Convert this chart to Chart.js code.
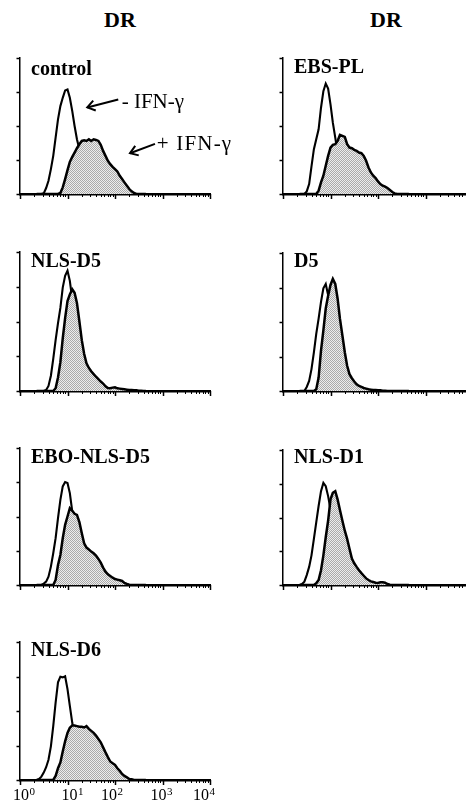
<!DOCTYPE html>
<html>
<head>
<meta charset="utf-8">
<script src="https://cdn.jsdelivr.net/npm/chart.js@4.4.1/dist/chart.umd.min.js"></script>
<style>
html,body{margin:0;padding:0;background:#fff;}
body{width:466px;height:803px;overflow:hidden;position:relative;}
.dr{position:absolute;top:9px;width:100px;text-align:center;font:bold 22px/22px "Liberation Serif",serif;color:#000;}
.pn{position:absolute;}
</style>
</head>
<body>
<div class="dr" style="left:70px">DR</div>
<div class="dr" style="left:336px">DR</div>
<script>
// Fluorescence channel bins (log10 from 0.35 to 2.65 in 0.05 steps)
const bins = [2.24,2.51,2.82,3.16,3.55,3.98,4.47,5.01,5.62,6.31,7.08,7.94,8.91,10.0,11.2,12.6,14.1,15.8,17.8,20.0,22.4,25.1,28.2,31.6,35.5,39.8,44.7,50.1,56.2,63.1,70.8,79.4,89.1,100,112,126,141,158,178,200,224,251,282,316,355,398,447];

const panelLabels = ['control','NLS-D5','EBO-NLS-D5','NLS-D6','EBS-PL','D5','NLS-D1'];
const xTickValues = [1,10,100,1000,10000];
const xTickBase = ['10','10','10','10','10'];
const xTickExp = ['0','1','2','3','4'];
const yTicks = [0,102.5,205,307.5,410];

// - IFN-gamma (open) and + IFN-gamma (filled) histograms
const controlMinus = [0,0,0,2,18,40,75,115,170,225,265,290,312,315,290,250,205,165,135,105,75,50,30,15,5,0,0,0,0,0,0,0,0,0,0,0,0,0,0,0,0,0,0,0,0,0,0];
const controlPlus  = [0,0,0,0,0,0,0,0,0,0,3,20,45,72,97,112,125,138,150,160,162,160,165,160,165,163,160,148,130,115,100,90,82,75,68,55,45,35,25,15,8,3,0,0,0,0,0];
const nlsD5Minus   = [0,0,0,0,3,15,45,95,150,200,245,305,340,355,325,270,210,150,100,60,35,20,10,5,0,0,0,0,0,0,0,0,0,0,0,0,0,0,0,0,0,0,0,0,0,0,0];
const nlsD5Plus    = [0,0,0,0,0,0,0,0,8,40,85,155,215,265,285,300,290,260,205,150,110,82,68,58,50,42,35,28,22,14,9,8,10,11,8,7,6,5,4,3,3,2,2,1,1,0,0];
const eboMinus     = [0,0,0,4,10,25,55,95,140,200,255,295,308,305,275,220,160,110,70,40,20,8,0,0,0,0,0,0,0,0,0,0,0,0,0,0,0,0,0,0,0,0,0,0,0,0,0];
const eboPlus      = [0,0,0,0,0,0,0,0,15,60,90,140,180,205,230,222,213,210,188,155,125,112,106,100,95,88,78,67,52,40,32,27,22,18,16,14,12,6,3,1,0,0,0,0,0,0,0];
const nlsD6Minus   = [0,3,10,22,38,60,100,160,230,290,307,305,308,270,220,170,130,95,65,40,20,8,0,0,0,0,0,0,0,0,0,0,0,0,0,0,0,0,0,0,0,0,0,0,0,0,0];
const nlsD6Plus    = [0,0,0,0,0,0,0,0,12,35,52,85,115,140,155,162,162,160,158,158,156,160,152,146,140,132,122,112,97,82,68,55,50,45,35,27,18,12,8,3,2,0,0,0,0,0,0];
const ebsMinus     = [0,0,0,8,30,83,135,165,195,260,310,333,318,270,215,170,125,85,50,25,10,0,0,0,0,0,0,0,0,0,0,0,0,0,0,0,0,0,0,0,0,0,0,0,0,0,0];
const ebsPlus      = [0,0,0,0,0,0,0,0,10,35,55,85,115,140,148,150,160,178,175,172,150,140,138,133,130,125,123,115,100,80,65,55,48,38,30,25,22,18,12,6,2,0,0,0,0,0,0];
const d5Minus      = [0,0,0,12,30,65,115,170,215,265,305,318,285,240,180,120,70,35,15,5,0,0,0,0,0,0,0,0,0,0,0,0,0,0,0,0,0,0,0,0,0,0,0,0,0,0,0];
const d5Plus       = [0,0,0,0,0,0,0,5,40,120,180,245,283,315,333,318,275,215,165,115,75,50,38,28,20,15,12,9,7,5,4,3,3,2,2,1,1,0,0,0,0,0,0,0,0,0,0];
const nlsD1Minus   = [0,3,10,30,55,90,140,190,240,285,310,300,270,230,180,130,85,50,25,10,0,0,0,0,0,0,0,0,0,0,0,0,0,0,0,0,0,0,0,0,0,0,0,0,0,0,0];
const nlsD1Plus    = [0,0,0,0,0,0,0,5,15,45,90,145,195,260,280,285,260,228,195,165,140,110,80,66,55,45,36,28,20,15,11,9,7,6,8,8,7,3,1,0,0,0,0,0,0,0,0];

const annotations = [
  {text:'- IFN-\u03B3', tx:138, ty:258, x1:117, y1:285, x2:26.1, y2:261, spacing:'0px'},
  {text:'+ IFN-\u03B3', tx:755, ty:133, x1:695, y1:151, x2:207, y2:123, spacing:'1.2px'}
];

// horizontal nudges of the printed tick labels (px)
const xLabelNudge = [1, 2, -6, -4, -9];

const panels = [
  {label:panelLabels[0], minus:controlMinus, plus:controlPlus, left:0,   axisTop:58,  base:194, labelDy:17, showX:false, notes:annotations},
  {label:panelLabels[1], minus:nlsD5Minus,   plus:nlsD5Plus,   left:0,   axisTop:252, base:391, labelDy:15, showX:false},
  {label:panelLabels[2], minus:eboMinus,     plus:eboPlus,     left:0,   axisTop:448, base:585, labelDy:15, showX:false},
  {label:panelLabels[3], minus:nlsD6Minus,   plus:nlsD6Plus,   left:0,   axisTop:642, base:780, labelDy:14, showX:true},
  {label:panelLabels[4], minus:ebsMinus,     plus:ebsPlus,     left:263, axisTop:58,  base:194, labelDy:15, showX:false},
  {label:panelLabels[5], minus:d5Minus,      plus:d5Plus,      left:263, axisTop:253, base:391, labelDy:14, showX:false},
  {label:panelLabels[6], minus:nlsD1Minus,   plus:nlsD1Plus,   left:263, axisTop:450, base:585, labelDy:13, showX:false}
];

// stippled grey fill
const pc = document.createElement('canvas');
pc.width = 2; pc.height = 2;
const pg = pc.getContext('2d');
pg.fillStyle = '#ededed'; pg.fillRect(0,0,2,2);
pg.fillStyle = '#aaaaaa'; pg.fillRect(0,0,1,1); pg.fillRect(1,1,1,1);
const stipple = pg.createPattern(pc,'repeat');

const decoPlugin = {
  id:'deco',
  afterDraw(chart, args, opts) {
    const {ctx, chartArea:a, scales:{x, y}} = chart;
    ctx.save();
    ctx.strokeStyle = '#000'; ctx.fillStyle = '#000';
    ctx.lineCap = 'butt';
    ctx.lineWidth = 1.5;
    yTicks.forEach(v => {
      const py = Math.round(y.getPixelForValue(v)) + 0.5;
      ctx.beginPath(); ctx.moveTo(a.left, py); ctx.lineTo(a.left - 3.5, py); ctx.stroke();
    });
    xTickValues.forEach((d, i) => {
      const px = Math.round(x.getPixelForValue(d)) + 0.5;
      ctx.lineWidth = 1.5;
      ctx.beginPath(); ctx.moveTo(px, a.bottom); ctx.lineTo(px, a.bottom + 5); ctx.stroke();
      if (i < xTickValues.length - 1) {
        ctx.lineWidth = 1;
        for (let m = 2; m <= 9; m++) {
          const mx = Math.round(x.getPixelForValue(d * m)) + 0.5;
          ctx.beginPath(); ctx.moveTo(mx, a.bottom); ctx.lineTo(mx, a.bottom + 3); ctx.stroke();
        }
      }
    });
    // decade labels 10^n
    if (opts.showX) {
      xTickValues.forEach((d, i) => {
        const cx = x.getPixelForValue(d) + xLabelNudge[i];
        ctx.font = '16px "Liberation Serif", serif';
        ctx.textAlign = 'center'; ctx.textBaseline = 'alphabetic';
        ctx.fillText(xTickBase[i], cx, a.bottom + 19.5);
        const w = ctx.measureText(xTickBase[i]).width;
        ctx.font = '11px "Liberation Serif", serif';
        ctx.textAlign = 'left';
        ctx.fillText(xTickExp[i], cx + w / 2 + 0.5, a.bottom + 14.5);
      });
    }
    ctx.font = 'bold 20px "Liberation Serif", serif';
    ctx.textBaseline = 'alphabetic';
    ctx.textAlign = 'left';
    ctx.fillText(opts.label, a.left + 11, a.top + opts.labelDy);
    (opts.notes || []).forEach(n => {
      ctx.font = '21px "Liberation Serif", serif';
      ctx.letterSpacing = n.spacing;
      ctx.fillText(n.text, x.getPixelForValue(n.tx), y.getPixelForValue(n.ty));
      ctx.letterSpacing = '0px';
      const sx = x.getPixelForValue(n.x1), sy = y.getPixelForValue(n.y1);
      const ex = x.getPixelForValue(n.x2), ey = y.getPixelForValue(n.y2);
      ctx.lineWidth = 2;
      ctx.beginPath(); ctx.moveTo(sx, sy); ctx.lineTo(ex, ey); ctx.stroke();
      const ang = Math.atan2(sy - ey, sx - ex);
      const L = 9, w = 0.6;
      ctx.beginPath();
      ctx.moveTo(ex + L * Math.cos(ang - w), ey + L * Math.sin(ang - w));
      ctx.lineTo(ex, ey);
      ctx.lineTo(ex + L * Math.cos(ang + w), ey + L * Math.sin(ang + w));
      ctx.stroke();
    });
    ctx.restore();
  }
};

panels.forEach(p => {
  const top = p.axisTop - 18;
  const bottomPad = p.showX ? 22 : 16;
  const h = (p.base - p.axisTop) + 18 + bottomPad;
  const wrap = document.createElement('div');
  wrap.className = 'pn';
  wrap.style.left = p.left + 'px';
  wrap.style.top = top + 'px';
  const cv = document.createElement('canvas');
  cv.width = 240; cv.height = h;
  cv.style.width = '240px'; cv.style.height = h + 'px';
  wrap.appendChild(cv);
  document.body.appendChild(wrap);
  new Chart(cv, {
    type:'line',
    data:{
      datasets:[
        {data: bins.map((b,i)=>({x:b, y:p.plus[i]})), borderColor:'#000', borderWidth:2.5, backgroundColor:stipple, fill:'origin', pointRadius:0, tension:0},
        {data: bins.map((b,i)=>({x:b, y:p.minus[i]})), borderColor:'#000', borderWidth:2.1, fill:false, pointRadius:0, tension:0}
      ]
    },
    options:{
      responsive:false, animation:false, devicePixelRatio:1,
      layout:{padding:{left:20, right:30, top:18, bottom:bottomPad}},
      plugins:{legend:{display:false}, tooltip:{enabled:false},
        deco:{label:p.label, labelDy:p.labelDy, notes:p.notes, showX:p.showX}},
      scales:{
        x:{type:'logarithmic', min:1, max:10000,
           grid:{display:false, drawTicks:false},
           border:{display:true, color:'#000', width:2.5},
           ticks:{display:false},
           afterBuildTicks:s=>{ s.ticks = xTickValues.map(v=>({value:v})); },
           afterFit:s=>{ s.height = 0; }},
        y:{min:0, max:410,
           grid:{display:false, drawTicks:false},
           border:{display:true, color:'#000', width:1.5},
           ticks:{display:false},
           afterFit:s=>{ s.width = 0; }}
      }
    },
    plugins:[decoPlugin]
  });
});
</script>
</body>
</html>
